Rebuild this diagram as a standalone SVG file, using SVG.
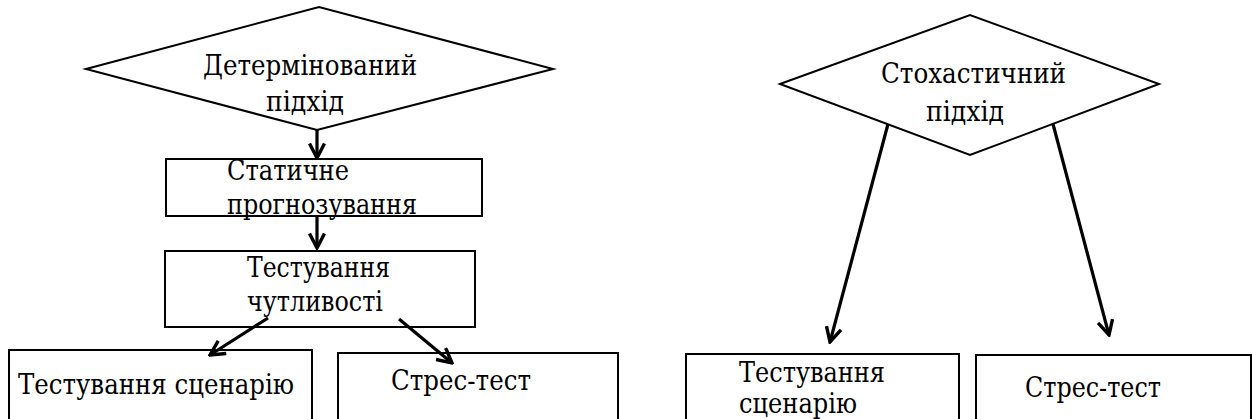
<svg xmlns="http://www.w3.org/2000/svg" width="1252" height="419" viewBox="0 0 1252 419">
<style>
.shape{fill:#fff;stroke:#000;stroke-width:2}
.conn{stroke:#000;stroke-width:3.2;fill:none}
.t{font-family:'DejaVu Serif','Liberation Serif',serif;font-size:28px;fill:#000}
</style>
<defs>
<marker id="ah" markerUnits="userSpaceOnUse" viewBox="0 0 18 18" markerWidth="18" markerHeight="18" refX="16" refY="9" orient="auto">
<path d="M1.5,1.5 L16,9 L1.5,16.5" fill="none" stroke="#000" stroke-width="3.4"/>
</marker>
</defs>
<rect width="1252" height="419" fill="#fff"/>
<g id="det">
<polygon class="shape" points="86,69 319,7 553,69 317,130"/>
<text class="t" x="203" y="75" textLength="214" lengthAdjust="spacingAndGlyphs">Детермінований</text>
<text class="t" x="266" y="111" textLength="78" lengthAdjust="spacingAndGlyphs">підхід</text>
</g>
<g id="static">
<rect class="shape" x="166" y="159" width="316" height="57"/>
<text class="t" x="227" y="180" textLength="122" lengthAdjust="spacingAndGlyphs">Статичне</text>
<text class="t" x="227" y="214" textLength="190" lengthAdjust="spacingAndGlyphs">прогнозування</text>
</g>
<g id="sens">
<rect class="shape" x="165" y="251" width="310" height="76"/>
<text class="t" x="247" y="277" textLength="143" lengthAdjust="spacingAndGlyphs">Тестування</text>
<text class="t" x="247" y="311" textLength="136" lengthAdjust="spacingAndGlyphs">чутливості</text>
</g>
<g id="scen1">
<rect class="shape" x="9" y="350" width="303" height="75"/>
<text class="t" x="18" y="394" textLength="276" lengthAdjust="spacingAndGlyphs">Тестування сценарію</text>
</g>
<g id="stress1">
<rect class="shape" x="338" y="353" width="280" height="72"/>
<text class="t" x="391" y="390" textLength="140" lengthAdjust="spacingAndGlyphs">Стрес-тест</text>
</g>
<g id="stoch">
<polygon class="shape" points="780,84 970,15 1159,84 970,155"/>
<text class="t" x="881" y="83" textLength="185" lengthAdjust="spacingAndGlyphs">Стохастичний</text>
<text class="t" x="926" y="121" textLength="78" lengthAdjust="spacingAndGlyphs">підхід</text>
</g>
<g id="scen2">
<rect class="shape" x="686" y="354" width="273" height="70"/>
<text class="t" x="739" y="382" textLength="146" lengthAdjust="spacingAndGlyphs">Тестування</text>
<text class="t" x="739" y="413" textLength="118" lengthAdjust="spacingAndGlyphs">сценарію</text>
</g>
<g id="stress2">
<rect class="shape" x="976" y="355" width="275" height="70"/>
<text class="t" x="1025" y="397" textLength="136" lengthAdjust="spacingAndGlyphs">Стрес-тест</text>
</g>
<g id="connectors">
<line class="conn" x1="317" y1="130" x2="317" y2="158" marker-end="url(#ah)"/>
<line class="conn" x1="317" y1="216" x2="317" y2="248" marker-end="url(#ah)"/>
<line class="conn" x1="268" y1="318" x2="210" y2="355" marker-end="url(#ah)"/>
<line class="conn" x1="399" y1="319" x2="452" y2="363" marker-end="url(#ah)"/>
<line class="conn" x1="888" y1="124" x2="830" y2="342" marker-end="url(#ah)"/>
<line class="conn" x1="1053" y1="124" x2="1109" y2="335" marker-end="url(#ah)"/>
</g>
</svg>
